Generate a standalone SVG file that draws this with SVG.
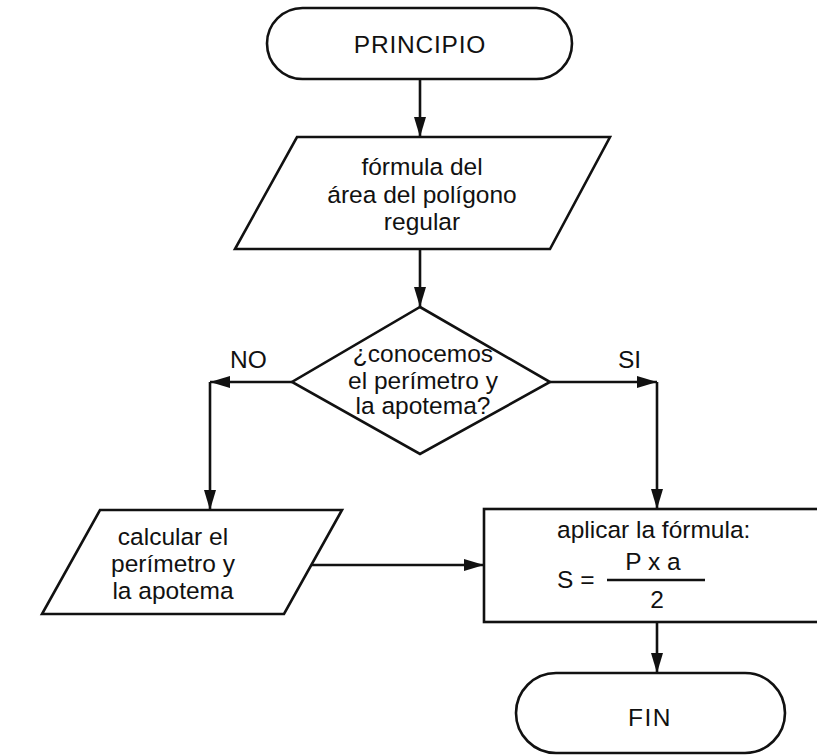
<svg xmlns="http://www.w3.org/2000/svg" width="817" height="755" viewBox="0 0 817 755">
<style>
.s{fill:#fff;stroke:#111;stroke-width:2.6;stroke-linejoin:miter}
.c{fill:none;stroke:#111;stroke-width:2.6}
text{font-family:"Liberation Sans",Arial,sans-serif;font-size:24.5px;fill:#111}
.m{text-anchor:middle}
</style>
<defs>
<marker id="ah" markerUnits="userSpaceOnUse" markerWidth="20" markerHeight="12" refX="20" refY="6" orient="auto">
<path d="M0,0 L20,6 L0,12 z" fill="#111"/>
</marker>
</defs>
<rect width="817" height="755" fill="#fff"/>
<g id="connectors">
<line class="c" x1="420" y1="79" x2="420" y2="137" marker-end="url(#ah)"/>
<line class="c" x1="420" y1="249" x2="420" y2="307" marker-end="url(#ah)"/>
<polyline class="c" points="292,382 210,382" marker-end="url(#ah)"/>
<line class="c" x1="210" y1="382" x2="210" y2="510" marker-end="url(#ah)"/>
<polyline class="c" points="550,382 657,382" marker-end="url(#ah)"/>
<line class="c" x1="657" y1="382" x2="657" y2="509" marker-end="url(#ah)"/>
<line class="c" x1="312" y1="565" x2="484" y2="565" marker-end="url(#ah)"/>
<line class="c" x1="657" y1="622" x2="657" y2="673" marker-end="url(#ah)"/>
</g>
<g id="label-no"><text x="230" y="368">NO</text></g>
<g id="label-si"><text x="618" y="368">SI</text></g>
<g id="principio">
<rect class="s" x="267" y="8" width="305" height="71" rx="35.5"/>
<text class="m" x="420" y="53" letter-spacing="0.8">PRINCIPIO</text>
</g>
<g id="formula">
<polygon class="s" points="297,137 610,137 550,249 235,249"/>
<text class="m" x="422" y="175">fórmula del</text>
<text class="m" x="422" y="203">área del polígono</text>
<text class="m" x="422" y="230">regular</text>
</g>
<g id="decision">
<polygon class="s" points="420,307 550,382 420,454 292,382"/>
<text class="m" x="423" y="362">¿conocemos</text>
<text class="m" x="423" y="389">el perímetro y</text>
<text class="m" x="423" y="414">la apotema?</text>
</g>
<g id="calcular">
<polygon class="s" points="100,510 342,510 284,614 42,614"/>
<text class="m" x="173" y="545">calcular el</text>
<text class="m" x="173" y="572">perímetro y</text>
<text class="m" x="173" y="599">la apotema</text>
</g>
<g id="aplicar">
<rect class="s" x="484" y="509" width="345" height="113"/>
<text x="557" y="538">aplicar la fórmula:</text>
<text x="557" y="588">S =</text>
<text class="m" x="653" y="570">P x a</text>
<line class="c" x1="607" y1="580" x2="705" y2="580" stroke-width="2"/>
<text class="m" x="657" y="608">2</text>
</g>
<g id="fin">
<rect class="s" x="516" y="673" width="269" height="80" rx="40"/>
<text class="m" x="650" y="726" letter-spacing="1.5">FIN</text>
</g>
</svg>
